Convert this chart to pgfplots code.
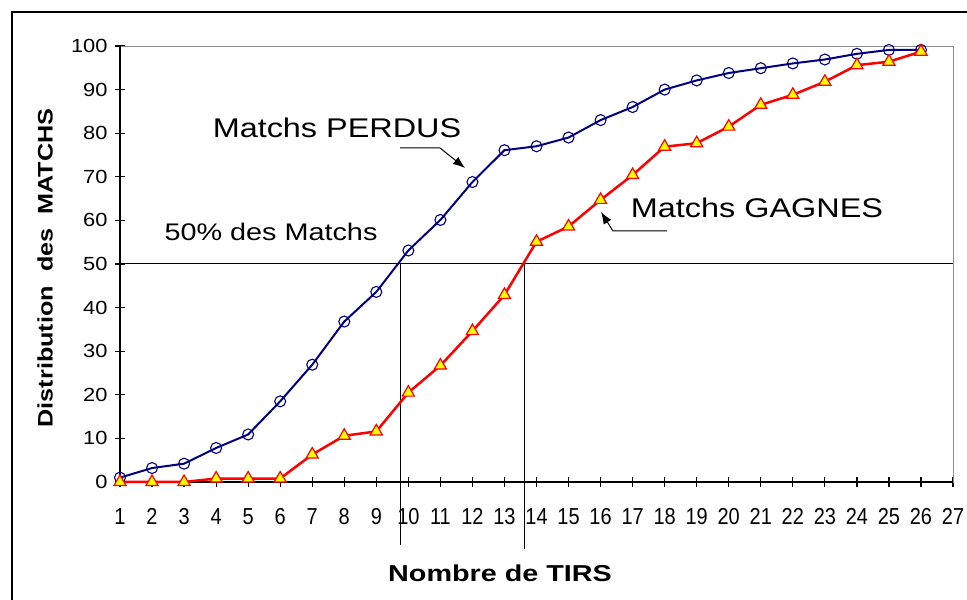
\documentclass[border=0pt]{standalone}
\usepackage{pgfplots}
\pgfplotsset{compat=1.18}
\usepackage{fontspec}
\setmainfont{Liberation Sans}
\usetikzlibrary{arrows.meta}
\definecolor{navyb}{RGB}{0,0,128}
\definecolor{redl}{RGB}{255,0,0}
\definecolor{yel}{RGB}{255,255,0}
\begin{document}
\begin{tikzpicture}[x=1bp,y=1bp]
\useasboundingbox (0,0) rectangle (967,600);
\draw[black, line width=1.2bp] (12,0) -- (12,588) -- (967,588);
\begin{axis}[
  at={(120bp,118bp)}, anchor=south west,
  scale only axis, width=833bp, height=436bp,
  xmin=1, xmax=27, ymin=0, ymax=100, clip=false,
  axis line style={black!45, line width=0.8bp},
  tick pos=left, tick align=center, major tick length=10bp,
  tick style={black, line width=1.2bp},
  xtick={1,...,27}, ytick={0,10,...,100},
  /pgf/number format/assume math mode=true,
  xticklabel style={font=\fontsize{21bp}{24bp}\selectfont, yshift=-21bp, inner sep=0pt},
  xticklabel={\scalebox{0.95}[1.1]{\pgfmathprintnumber{\tick}}},
  yticklabel style={font=\fontsize{19bp}{22bp}\selectfont, xshift=-4bp},
  yticklabel={\scalebox{1.15}[1]{\pgfmathprintnumber{\tick}}},
]
% reference lines
\addplot[black, line width=1bp, forget plot] coordinates {(1,50) (27,50)};
\addplot[black, line width=1bp, forget plot] coordinates {(9.77,50) (9.77,-14.4)};
\addplot[black, line width=1bp, forget plot] coordinates {(13.61,50) (13.61,-15.4)};
% axis lines left/bottom
\addplot[black, line width=1.8bp, forget plot] coordinates {(1,100) (1,0) (27,0)};
% Matchs PERDUS
\addplot[navyb, line width=2bp, mark=o, mark size=5.5bp, mark options={navyb, line width=1.1bp}] coordinates {
(1,1) (2,3.2) (3,4.2) (4,7.8) (5,10.9) (6,18.5) (7,26.9) (8,36.8) (9,43.6) (10,53.1)
(11,60.1) (12,68.8) (13,76.1) (14,77) (15,79) (16,83) (17,86) (18,90) (19,92.1) (20,93.8)
(21,94.9) (22,96) (23,96.9) (24,98.2) (25,99.1) (26,99.1)};
% Matchs GAGNES
\addplot[redl, line width=2.5bp, mark=triangle*, mark size=7bp, mark options={fill=yel, draw=redl, line width=1.2bp}] coordinates {
(1,0) (2,0) (3,0) (4,0.8) (5,0.8) (6,0.8) (7,6.3) (8,10.6) (9,11.6) (10,20.5)
(11,26.7) (12,34.6) (13,42.9) (14,55.1) (15,58.6) (16,64.7) (17,70.4) (18,76.9) (19,77.7) (20,81.5)
(21,86.5) (22,88.8) (23,91.8) (24,95.6) (25,96.4) (26,98.7)};
\end{axis}
% labels
\node[font=\fontsize{23bp}{26bp}\selectfont\bfseries] at (500,27) {\scalebox{1.25}[1]{Nombre de TIRS}};
\node[font=\fontsize{21bp}{24bp}\selectfont\bfseries, rotate=90] at (45,332) {\scalebox{1.2}[1]{Distribution\ \ des\ \ MATCHS}};
\node[font=\fontsize{27bp}{30bp}\selectfont] at (337,472) {\scalebox{1.2}[1]{Matchs PERDUS}};
\node[font=\fontsize{27bp}{30bp}\selectfont] at (757,392) {\scalebox{1.2}[1]{Matchs GAGNES}};
\node[font=\fontsize{24bp}{28bp}\selectfont] at (271,368) {\scalebox{1.2}[1]{50\% des Matchs}};
\draw[black, line width=1bp, -{Latex[length=12bp,width=9bp]}] (400,452) -- (440,452) -- (465,432);
\draw[black, line width=1bp, -{Latex[length=12bp,width=9bp]}] (667,369) -- (613,369) -- (601,388);
\end{tikzpicture}
\end{document}
